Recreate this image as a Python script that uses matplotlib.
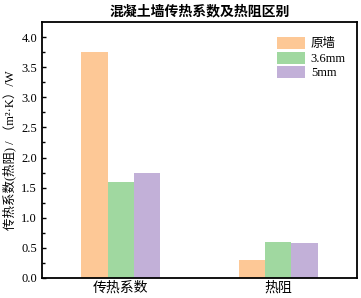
import matplotlib
matplotlib.use('Agg')
import matplotlib.pyplot as plt
import numpy as np

plt.rcParams['font.family'] = ['Liberation Serif', 'Noto Sans CJK SC']

categories = ['传热系数', '热阻']
series_names = ['原墙', '3.6mm', '5mm']
values_orig = [3.75, 0.30]
values_36 = [1.60, 0.60]
values_5 = [1.75, 0.58]
colors = ['#FDC896', '#A0D8A0', '#C2B0D8']

fig = plt.figure(figsize=(3.61, 2.98), dpi=100)
ax = fig.add_axes([42 / 361, 20 / 298, 315 / 361, 256 / 298])

x = np.arange(len(categories))
w = 0.167
for i, (vals, name) in enumerate(zip([values_orig, values_36, values_5], series_names)):
    ax.bar(x + (i - 1) * w, vals, width=w, color=colors[i], label=name)

ax.set_xlim(-0.5, 1.5)
ax.set_ylim(0, 4.25)
ax.set_yticks(np.arange(0, 4.01, 0.5))
ax.set_yticks(np.arange(0.25, 4.25, 0.5), minor=True)
ax.set_xticks(x)
ax.set_xticklabels(categories, fontsize=10)
ax.tick_params(axis='x', length=0, pad=2)
ax.tick_params(axis='y', which='major', direction='in', length=3, width=1, labelsize=9)
ax.tick_params(axis='y', which='minor', direction='in', length=2, width=1)
for s in ax.spines.values():
    s.set_linewidth(1.3)

ax.set_ylabel('传热系数(热阻) / （m²·K）/W', fontsize=9, labelpad=4)
ax.set_title('混凝土墙传热系数及热阻区别', fontsize=10, pad=5, fontweight='bold')

ax.legend(loc='upper right', frameon=False, fontsize=9, handlelength=2.2,
          handleheight=1.1, labelspacing=0.1, handletextpad=0.5,
          bbox_to_anchor=(1.0, 0.985))

fig.savefig('out.png', dpi=100)
